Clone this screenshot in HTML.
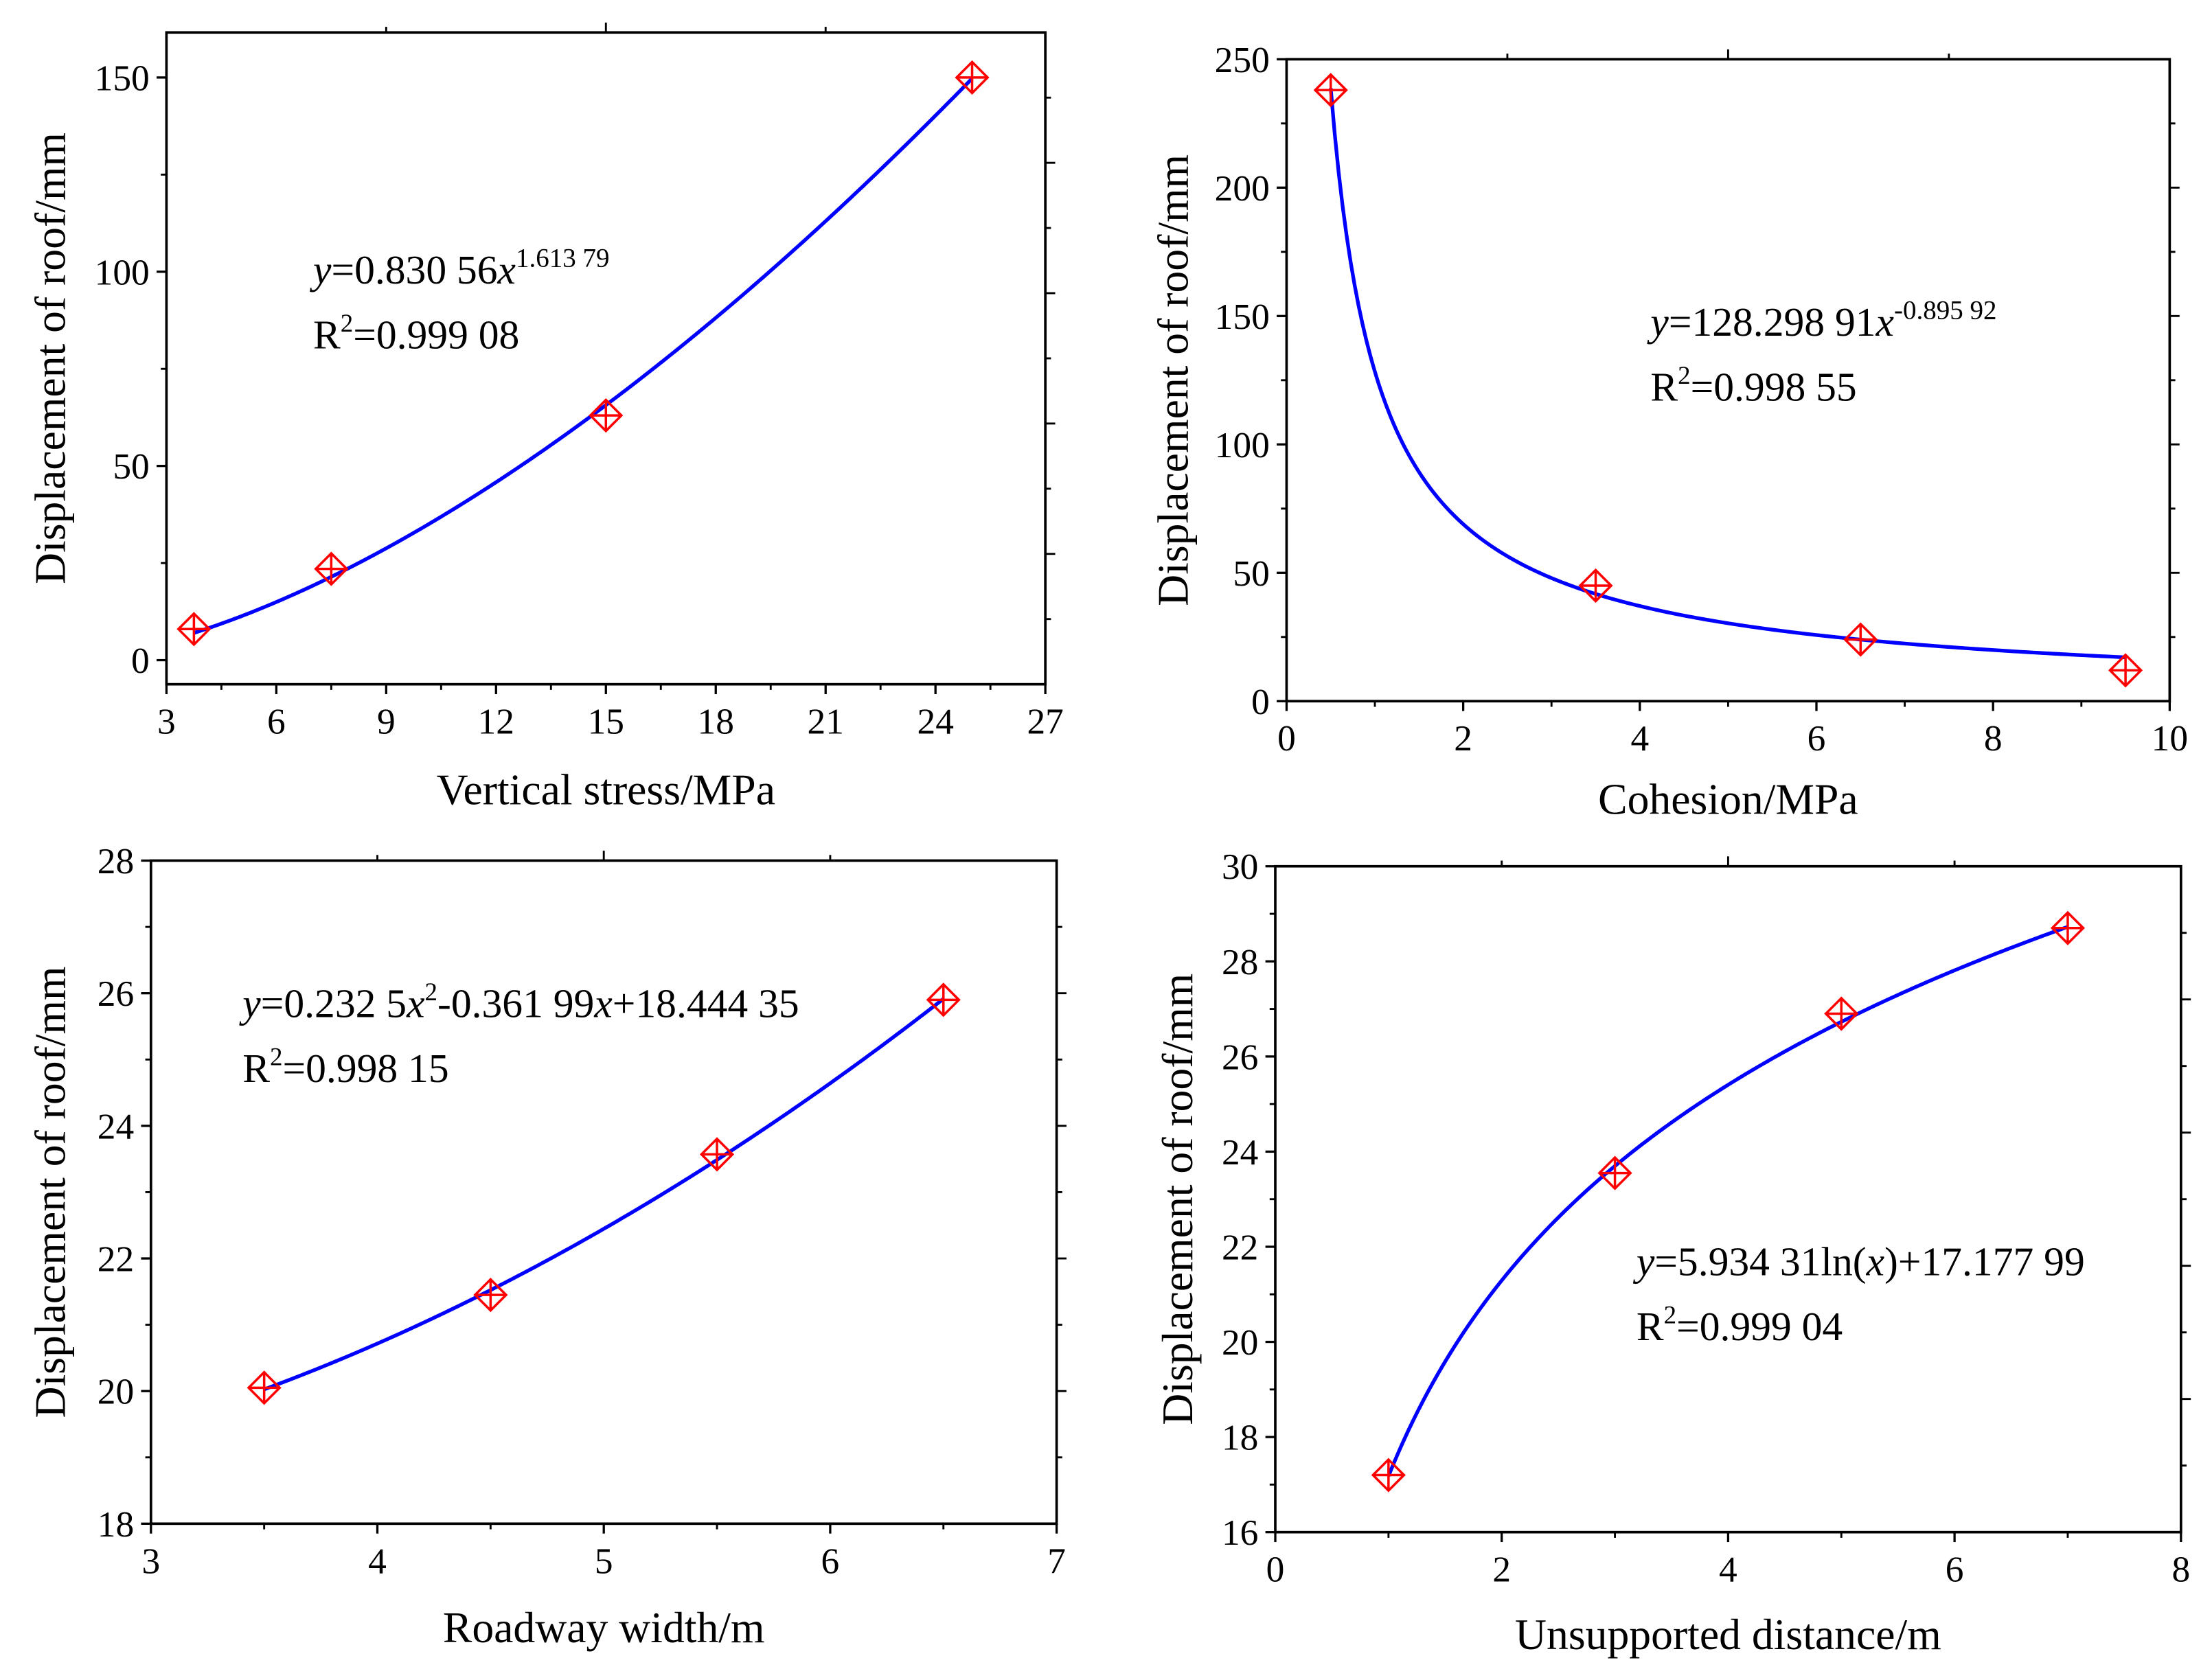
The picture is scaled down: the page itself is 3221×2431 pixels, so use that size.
<!DOCTYPE html>
<html><head><meta charset="utf-8"><style>
html,body{margin:0;padding:0;background:#fff;}
svg{display:block;}
text{font-family:"Liberation Serif",serif;fill:#000;}
</style></head><body>
<svg id="fig" width="3221" height="2431" viewBox="0 0 1568 1183" preserveAspectRatio="none" xmlns="http://www.w3.org/2000/svg"></svg>
<script>
// Panel a: vertical stress
const stressX = [3.75, 7.5, 15, 25];
const stressY = [8, 23.5, 63, 150];
const stressXTicks = [3, 6, 9, 12, 15, 18, 21, 24, 27];
const stressYTicks = [0, 50, 100, 150];
// Panel b: cohesion
const cohX = [0.5, 3.5, 6.5, 9.5];
const cohY = [238, 45, 24, 12];
const cohXTicks = [0, 2, 4, 6, 8, 10];
const cohYTicks = [0, 50, 100, 150, 200, 250];
// Panel c: roadway width
const widthX = [3.5, 4.5, 5.5, 6.5];
const widthY = [20.05, 21.45, 23.57, 25.9];
const widthXTicks = [3, 4, 5, 6, 7];
const widthYTicks = [18, 20, 22, 24, 26, 28];
// Panel d: unsupported distance
const distX = [1, 3, 5, 7];
const distY = [17.2, 23.55, 26.9, 28.7];
const distXTicks = [0, 2, 4, 6, 8];
const distYTicks = [16, 18, 20, 22, 24, 26, 28, 30];

const NS = "http://www.w3.org/2000/svg";
const svg = document.getElementById('fig');
function mk(tag, attrs, parent) {
  const e = document.createElementNS(NS, tag);
  for (const k in attrs) e.setAttribute(k, attrs[k]);
  (parent || svg).appendChild(e);
  return e;
}

function panel(cfg) {
  const g = mk('g', {});
  
  
  const sx = v => cfg.L + (v - cfg.x0) / (cfg.x1 - cfg.x0) * (cfg.R - cfg.L);
  const sy = v => cfg.B - (v - cfg.y0) / (cfg.y1 - cfg.y0) * (cfg.B - cfg.T);
  const frame = mk('rect', {x: cfg.L, y: cfg.T, width: cfg.R - cfg.L, height: cfg.B - cfg.T, fill: 'none', stroke: '#000', 'stroke-width': 1.8}, g);
  
  
  cfg.xt.forEach((v, i) => {
    const x = sx(v);
    const t = mk('line', {x1: x, x2: x, y1: cfg.B, y2: cfg.B + 7, stroke: '#000', 'stroke-width': 1.6}, g);
    
    
    const lab = mk('text', {x: x, y: cfg.B + 35, 'text-anchor': 'middle', 'font-size': 26}, g);
    lab.textContent = v;
    
    
    if (i < cfg.xt.length - 1) {
      const m = sx((v + cfg.xt[i + 1]) / 2);
      mk('line', {x1: m, x2: m, y1: cfg.B, y2: cfg.B + 4, stroke: '#000', 'stroke-width': 1.4}, g);
    }
  });
  cfg.yt.forEach((v, i) => {
    const y = sy(v);
    const t = mk('line', {x1: cfg.L - 7, x2: cfg.L, y1: y, y2: y, stroke: '#000', 'stroke-width': 1.6}, g);
    
    
    const lab = mk('text', {x: cfg.L - 12, y: y + 9, 'text-anchor': 'end', 'font-size': 26}, g);
    lab.textContent = v;
    
    
    if (i < cfg.yt.length - 1) {
      const m = sy((v + cfg.yt[i + 1]) / 2);
      mk('line', {x1: cfg.L - 4, x2: cfg.L, y1: m, y2: m, stroke: '#000', 'stroke-width': 1.4}, g);
    }
  });
  const h = cfg.B - cfg.T;
  for (let k = 1; k <= cfg.rn; k++) {
    const y = cfg.B - k * h / (cfg.rn + 1);
    mk('line', {x1: cfg.R, x2: cfg.R + (k % 2 ? 4 : 7), y1: y, y2: y, stroke: '#000', 'stroke-width': 1.4}, g);
  }
  const w = cfg.R - cfg.L;
  for (let k = 1; k < cfg.tn; k++) {
    const x = cfg.L + k * w / cfg.tn;
    mk('line', {x1: x, x2: x, y1: cfg.T, y2: cfg.T - (k % 2 ? 4 : 7), stroke: '#000', 'stroke-width': 1.4}, g);
  }
  let d = '';
  const N = 200;
  for (let i = 0; i <= N; i++) {
    const xv = cfg.fx0 + (cfg.fx1 - cfg.fx0) * i / N;
    d += (i ? 'L' : 'M') + sx(xv).toFixed(2) + ',' + sy(cfg.f(xv)).toFixed(2);
  }
  const c = mk('path', {d: d, fill: 'none', stroke: '#0000ff', 'stroke-width': 2.6}, g);
  
  
  cfg.xs.forEach((xv, i) => {
    const x = sx(xv), y = sy(cfg.ys[i]), r = 11;
    const m = mk('path', {d: `M${x},${y - r}L${x + r},${y}L${x},${y + r}L${x - r},${y}Z M${x},${y - r}V${y + r} M${x - r},${y}H${x + r}`, fill: 'none', stroke: '#ff0000', 'stroke-width': 1.7}, g);
    
    
  });
  const xl = mk('text', {x: (cfg.L + cfg.R) / 2, y: cfg.xly, 'text-anchor': 'middle', 'font-size': 31}, g);
  xl.textContent = cfg.xlabel;
  
  
  const yl = mk('text', {x: 0, y: 0, 'text-anchor': 'middle', 'font-size': 31, transform: `translate(${cfg.ylx},${(cfg.T + cfg.B) / 2}) rotate(-90)`}, g);
  yl.textContent = 'Displacement of roof/mm';
  
  
  const eq = mk('text', {x: cfg.ex, y: cfg.ey, 'font-size': 29}, g);
  eq.innerHTML = cfg.eq;
  
  
  const r2 = mk('text', {x: cfg.ex, y: cfg.ey + 46, 'font-size': 29}, g);
  r2.innerHTML = 'R<tspan dy="-12" font-size="18">2</tspan><tspan dy="12">=' + cfg.r2 + '</tspan>';
  
  
}

panel({name: 'panel-vertical-stress', L: 118, R: 741, T: 23, B: 485, x0: 3, x1: 27, y0: -6.2, y1: 161.6,
  xs: stressX, ys: stressY, xt: stressXTicks, yt: stressYTicks, rn: 9, tn: 4,
  f: x => 0.83056 * Math.pow(x, 1.61379), fx0: 3.75, fx1: 25,
  xlabel: 'Vertical stress/MPa', xly: 570, ylx: 46, ex: 222, ey: 201,
  eq: '<tspan font-style="italic">y</tspan>=0.830 56<tspan font-style="italic">x</tspan><tspan dy="-12" font-size="19">1.613 79</tspan>', r2: '0.999 08'});
panel({name: 'panel-cohesion', L: 912, R: 1538, T: 42, B: 497, x0: 0, x1: 10, y0: 0, y1: 250,
  xs: cohX, ys: cohY, xt: cohXTicks, yt: cohYTicks, rn: 9, tn: 4,
  f: x => 128.29891 * Math.pow(x, -0.89592), fx0: 0.5, fx1: 9.5,
  xlabel: 'Cohesion/MPa', xly: 577, ylx: 842, ex: 1170, ey: 238,
  eq: '<tspan font-style="italic">y</tspan>=128.298 91<tspan font-style="italic">x</tspan><tspan dy="-12" font-size="19">-0.895 92</tspan>', r2: '0.998 55'});
panel({name: 'panel-roadway-width', L: 107, R: 749, T: 610, B: 1080, x0: 3, x1: 7, y0: 18, y1: 28,
  xs: widthX, ys: widthY, xt: widthXTicks, yt: widthYTicks, rn: 9, tn: 4,
  f: x => 0.2325 * x * x - 0.36199 * x + 18.44435, fx0: 3.5, fx1: 6.5,
  xlabel: 'Roadway width/m', xly: 1164, ylx: 46, ex: 172, ey: 721,
  eq: '<tspan font-style="italic">y</tspan>=0.232 5<tspan font-style="italic">x</tspan><tspan dy="-12" font-size="18">2</tspan><tspan dy="12">-0.361 99</tspan><tspan font-style="italic">x</tspan>+18.444 35', r2: '0.998 15'});
panel({name: 'panel-unsupported-distance', L: 904, R: 1546, T: 614, B: 1086, x0: 0, x1: 8, y0: 16, y1: 30,
  xs: distX, ys: distY, xt: distXTicks, yt: distYTicks, rn: 9, tn: 4,
  f: x => 5.93431 * Math.log(x) + 17.17799, fx0: 1, fx1: 7,
  xlabel: 'Unsupported distance/m', xly: 1169, ylx: 845, ex: 1160, ey: 904,
  eq: '<tspan font-style="italic">y</tspan>=5.934 31ln(<tspan font-style="italic">x</tspan>)+17.177 99', r2: '0.999 04'});
</script>
</body></html>
